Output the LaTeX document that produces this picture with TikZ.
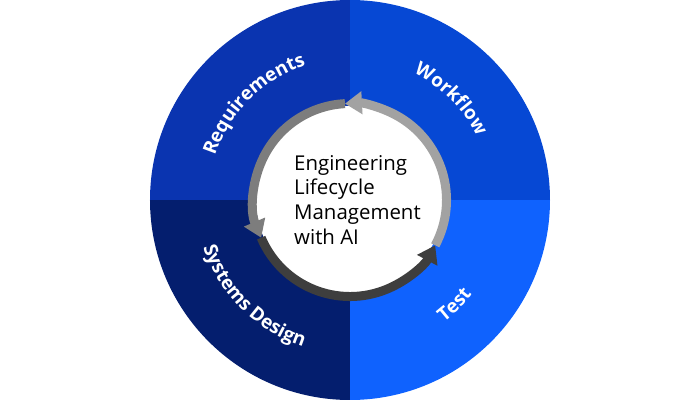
\documentclass[tikz,border=0pt]{standalone}
\usepackage{fontspec}
\setmainfont{Open Sans}
\usepackage{xcolor}
\usepackage{tikz}
\usetikzlibrary{arrows.meta, decorations.text}
\definecolor{reqblue}{RGB}{10,52,176}
\definecolor{flowblue}{RGB}{6,72,212}
\definecolor{sysblue}{RGB}{4,30,110}
\definecolor{testblue}{RGB}{15,98,254}
\definecolor{ringlight}{RGB}{162,162,162}
\definecolor{ringmid}{RGB}{125,125,125}
\definecolor{ringdark}{RGB}{62,62,62}
\newcommand{\lblfont}{\fontsize{19}{19}\selectfont\bfseries}

\begin{document}
\begin{tikzpicture}[
        ring/.style={line width=9bp},
        ringarr/.style={ring, -{Triangle[length=17bp, width=22bp]}},
        lbl/.style={decorate, decoration={text along path, text align=center, text color=white}},
        title/.style={align=left, inner sep=0pt, font=\fontsize{20.5}{25}\selectfont}
    ]
    \useasboundingbox (-350bp,-200bp) rectangle (350bp,200bp);

    % Quadrants
    \fill[reqblue] (0,0) -- (180:200bp) arc[start angle=180, end angle=90, radius=200bp] -- cycle;
    \fill[flowblue] (0,0) -- (90:200bp) arc[start angle=90, end angle=0, radius=200bp] -- cycle;
    \fill[sysblue] (0,0) -- (180:200bp) arc[start angle=180, end angle=270, radius=200bp] -- cycle;
    \fill[testblue] (0,0) -- (270:200bp) arc[start angle=270, end angle=360, radius=200bp] -- cycle;

    % Centre
    \fill[white] (0,0) circle[radius=94bp];
    \node[title, anchor=west] (title) at (-56bp,0) {Engineering\\Lifecycle\\Management\\with AI};

    % Ring arrows
    \coordinate (p1) at (-28:96.5bp);
    \coordinate (p2) at (93:96.5bp);
    \coordinate (p3) at (203:96.5bp);
    \draw[ringarr, ringlight] (p1) arc[start angle=-28, end angle=93, radius=96.5bp];
    \draw[ringarr, ringmid] (p2) arc[start angle=93, end angle=203, radius=96.5bp];
    \draw[ringarr, ringdark] (p3) arc[start angle=203, end angle=332, radius=96.5bp];

    % Labels
    \path[lbl, decoration={text={|\lblfont|Requirements}}] (180:142bp) arc[start angle=180, end angle=90, radius=142bp];
    \path[lbl, decoration={text={|\lblfont|Workflow}}] (90:142bp) arc[start angle=90, end angle=0, radius=142bp];
    \path[lbl, decoration={text={|\lblfont|Systems Design}}] (180:154bp) arc[start angle=180, end angle=270, radius=154bp];
    \path[lbl, decoration={text={|\lblfont|Test}}] (270:154bp) arc[start angle=270, end angle=360, radius=154bp];

\end{tikzpicture}
\end{document}
